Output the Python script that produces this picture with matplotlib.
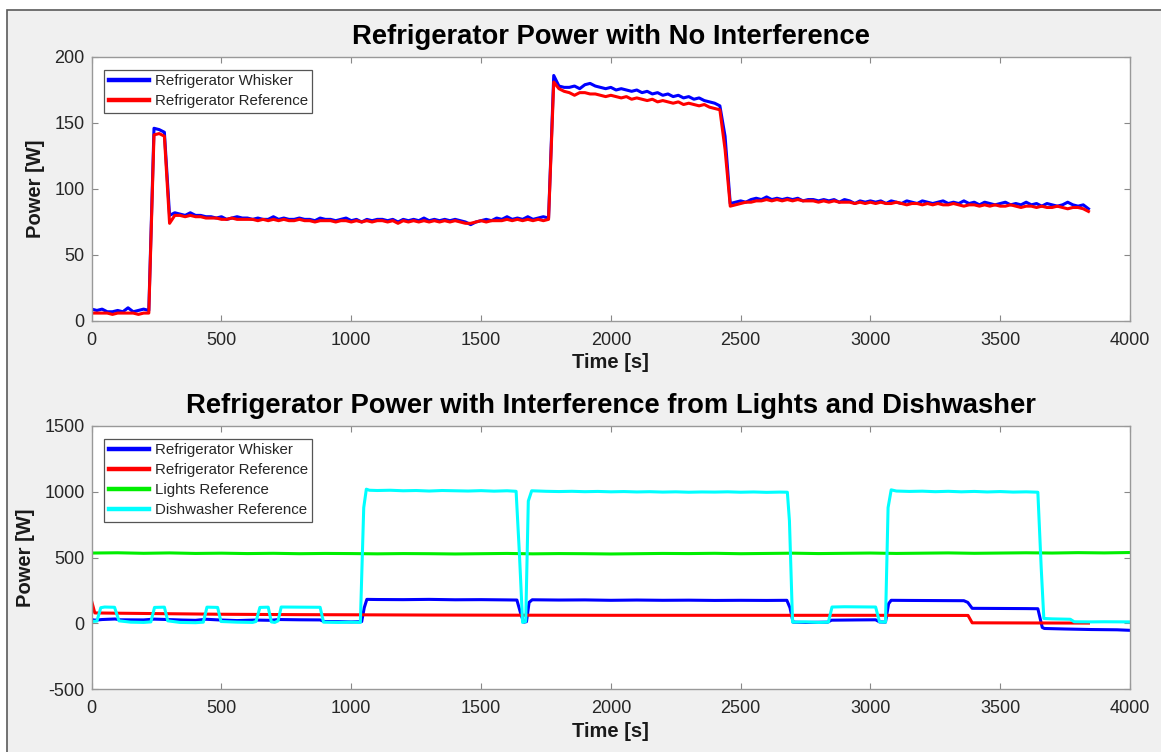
import numpy as np
import matplotlib
matplotlib.use("Agg")
import matplotlib.pyplot as plt
from matplotlib.patches import Rectangle

plt.rcParams['font.family'] = ['Liberation Sans', 'DejaVu Sans']
plt.rcParams['axes.unicode_minus'] = False

# ---------------- data: top plot (sampled every 20 s, 0..3840 s) ----------------
top_time = np.arange(0, 3841, 20)
top_whisker = ([9, 8, 9, 7, 7, 8, 7, 10, 7, 8, 9, 8]
               + [146, 145, 143, 80]
               + [82, 81, 80, 82, 80, 80, 79, 79, 78, 79, 77, 78, 79, 78, 78, 77, 78, 77, 77, 79,
                  77, 78, 77, 77, 78, 77, 77, 76, 78, 77, 77, 76, 77, 78, 76]
               + [77, 75, 77, 76, 77, 77, 76, 77, 75, 77, 76, 77, 76, 78, 76, 77, 76, 77, 76, 77,
                  76, 75, 73, 75, 76, 77, 76, 78, 77, 79, 77, 78, 77, 79, 77, 78, 79, 78]
               + [186, 178, 177, 177, 178, 176, 179, 180, 178, 177, 176, 177, 175, 176, 175, 174, 175,
                  173, 174, 172, 173, 171, 172, 170, 171, 169, 170, 168, 169, 167, 166, 165, 163, 140]
               + [89, 90, 91, 90, 92, 93, 92, 94, 92, 93, 92, 93, 92, 93, 91, 92, 92, 91, 92, 91,
                  92, 90, 92, 91, 89, 91, 90, 91]
               + [90, 91, 89, 91, 90, 89, 91, 90, 89, 91, 90, 89, 90, 91, 89, 90, 89, 91, 89, 90,
                  88, 90, 89, 88, 89, 90, 88, 89, 88, 90, 88, 89, 87, 89, 88, 87, 88, 90, 88, 87,
                  88, 85])
top_reference = ([6, 6, 6, 6, 5, 6, 6, 6, 6, 5, 6, 6]
                 + [141, 142, 140, 74]
                 + [80, 80, 79, 80, 79, 79, 78, 78, 78, 77, 77, 78, 77, 77, 77, 77, 76, 77, 76, 77,
                    76, 77, 76, 76, 77, 76, 76, 75, 76, 76, 76, 75, 76, 76, 75]
                 + [76, 75, 76, 75, 76, 76, 75, 76, 74, 76, 75, 76, 75, 76, 75, 76, 75, 76, 75, 76,
                    75, 74, 74, 75, 76, 75, 76, 76, 76, 77, 76, 77, 76, 77, 76, 77, 76, 77]
                 + [181, 176, 174, 173, 171, 173, 173, 172, 172, 171, 170, 171, 170, 169, 170, 168, 169,
                    168, 167, 168, 166, 167, 166, 165, 166, 164, 165, 164, 163, 164, 162, 161, 160, 130]
                 + [87, 88, 89, 90, 90, 91, 91, 92, 91, 92, 91, 92, 91, 92, 91, 91, 91, 90, 91, 90,
                    91, 90, 90, 90, 89, 90, 89, 90]
                 + [89, 90, 89, 89, 90, 89, 88, 89, 89, 88, 89, 88, 89, 88, 88, 89, 88, 87, 88, 88,
                    87, 88, 87, 88, 87, 87, 88, 87, 86, 87, 87, 86, 87, 86, 86, 87, 86, 85, 86, 86,
                    85, 83])

# ---------------- data: bottom plot (time [s], power [W]) ----------------
bot_whisker = [(0, 30), (12, 25), (40, 30), (90, 34), (110, 28), (200, 27), (240, 33), (290, 30),
               (350, 26), (400, 24), (440, 32), (490, 27), (560, 22), (630, 26), (690, 24), (720, 30),
               (800, 28), (880, 27), (895, 15), (950, 14), (1000, 12), (1040, 14), (1050, 120),
               (1060, 183), (1100, 182), (1200, 181), (1300, 183), (1400, 180), (1500, 181),
               (1600, 179), (1638, 178), (1655, 60), (1665, 10), (1675, 14), (1685, 160), (1697, 180),
               (1800, 178), (1900, 179), (2000, 176), (2100, 178), (2200, 176), (2300, 177),
               (2400, 175), (2500, 176), (2600, 175), (2678, 176), (2690, 120), (2702, 10),
               (2750, 8), (2835, 10), (2850, 25), (2950, 27), (3020, 28), (3035, 12), (3058, 10),
               (3070, 150), (3080, 176), (3150, 175), (3250, 174), (3360, 173), (3375, 160),
               (3392, 115), (3500, 114), (3600, 113), (3645, 112), (3662, -30), (3670, -38),
               (3750, -42), (3850, -46), (3950, -48), (4000, -52)]
bot_reference = [(0, 168), (12, 80), (100, 78), (300, 74), (500, 70), (800, 67), (1000, 66),
                 (1300, 64), (1600, 63), (2000, 62), (2500, 62), (3000, 62), (3376, 61),
                 (3392, 5), (3600, 4), (3840, 3)]
bot_lights = [(0, 535), (100, 537), (200, 533), (300, 536), (400, 532), (500, 534), (600, 531),
              (700, 533), (800, 530), (900, 532), (1000, 531), (1100, 529), (1200, 531), (1300, 530),
              (1400, 528), (1500, 530), (1600, 532), (1700, 529), (1800, 531), (1900, 530),
              (2000, 528), (2100, 530), (2200, 532), (2300, 531), (2400, 533), (2500, 530),
              (2600, 532), (2700, 534), (2800, 531), (2900, 533), (3000, 535), (3100, 532),
              (3200, 534), (3300, 536), (3400, 533), (3500, 535), (3600, 537), (3700, 535),
              (3800, 538), (3900, 536), (4000, 539)]
bot_dishwasher = [(0, 15), (20, 18), (35, 120), (50, 125), (88, 123), (105, 20), (150, 10), (200, 8),
                  (228, 12), (242, 122), (280, 124), (293, 20), (340, 8), (400, 6), (430, 10),
                  (444, 124), (485, 122), (498, 15), (560, 10), (620, 8), (633, 15), (648, 122),
                  (680, 124), (692, 12), (705, 8), (718, 20), (730, 125), (800, 124), (880, 123),
                  (893, 10), (950, 8), (1000, 10), (1035, 8), (1048, 880), (1058, 1020), (1070, 1012),
                  (1100, 1010), (1150, 1012), (1200, 1008), (1250, 1010), (1300, 1006), (1350, 1010),
                  (1400, 1008), (1450, 1006), (1500, 1009), (1550, 1005), (1600, 1008), (1635, 1004),
                  (1648, 520), (1660, 8), (1672, 15), (1682, 930), (1695, 1008), (1750, 1004),
                  (1800, 1002), (1850, 1004), (1900, 1001), (1950, 1003), (2000, 1000), (2050, 1002),
                  (2100, 999), (2150, 1001), (2200, 998), (2250, 1000), (2300, 997), (2350, 999),
                  (2400, 998), (2450, 1000), (2500, 997), (2550, 999), (2600, 996), (2650, 998),
                  (2680, 997), (2688, 780), (2700, 10), (2750, 12), (2800, 8), (2838, 10), (2852, 125),
                  (2900, 127), (2960, 126), (3020, 125), (3035, 12), (3058, 10), (3068, 880),
                  (3080, 1015), (3100, 1006), (3150, 1003), (3200, 1005), (3250, 1001), (3300, 1004),
                  (3350, 1000), (3400, 1003), (3450, 999), (3500, 1002), (3550, 998), (3600, 1000),
                  (3645, 997), (3658, 420), (3668, 38), (3700, 35), (3770, 32), (3785, 13),
                  (3850, 12), (3900, 13), (4000, 12)]

top_title = "Refrigerator Power with No Interference"
bot_title = "Refrigerator Power with Interference from Lights and Dishwasher"
x_ticks = [0, 500, 1000, 1500, 2000, 2500, 3000, 3500, 4000]
top_yticks = [0, 50, 100, 150, 200]
bot_yticks = [-500, 0, 500, 1000, 1500]

# ---------------- figure ----------------
W, H = 1161, 752
fig = plt.figure(figsize=(W / 100, H / 100), dpi=100, facecolor='white')
fig.add_artist(Rectangle((7.0 / W, -0.1), 1.2, 1.1 - 9.5 / H, transform=fig.transFigure,
                         facecolor='#f0f0f0', edgecolor='#5a5a5a', linewidth=1.2, zorder=-10))

ax1 = fig.add_axes([91.7 / W, 1 - 321 / H, (1130 - 91.7) / W, (321 - 57) / H])
ax2 = fig.add_axes([91.7 / W, 1 - 689.3 / H, (1130 - 91.7) / W, (689.3 - 426) / H])

lw = 2.2
ax1.plot(top_time, top_whisker, color='#0000ff', lw=lw, label='Refrigerator Whisker')
ax1.plot(top_time, top_reference, color='#ff0000', lw=lw, label='Refrigerator Reference')

for data, col, lab in [(bot_whisker, '#0000ff', 'Refrigerator Whisker'),
                       (bot_reference, '#ff0000', 'Refrigerator Reference'),
                       (bot_lights, '#00ee00', 'Lights Reference'),
                       (bot_dishwasher, '#00ffff', 'Dishwasher Reference')]:
    t, v = zip(*data)
    ax2.plot(t, v, color=col, lw=lw, label=lab)

for ax, title, yt, ylim in [(ax1, top_title, top_yticks, (0, 200)),
                            (ax2, bot_title, bot_yticks, (-500, 1500))]:
    ax.set_facecolor('white')
    ax.set_xlim(0, 4000)
    ax.set_ylim(*ylim)
    ax.set_xticks(x_ticks)
    ax.set_yticks(yt)
    ax.tick_params(direction='in', length=4.5, width=0.8, color='#888888', labelcolor='#262626',
                   labelsize=13, top=True, right=True)
    ax.tick_params(axis='x', pad=8)
    ax.tick_params(axis='y', pad=5)
    for s in ax.spines.values():
        s.set_color('#999999')
        s.set_linewidth(1.0)
    ax.set_title(title, fontsize=19.7, fontweight='bold', color='black', pad=9.5)
    ax.set_xlabel('Time [s]', fontsize=14.5, fontweight='bold', color='#1a1a1a', labelpad=3)
    ax.set_ylabel('Power [W]', fontsize=14.5, fontweight='bold', color='#1a1a1a', labelpad=7)
    leg = ax.legend(loc='upper left', fontsize=10.8, frameon=True, fancybox=False,
                    edgecolor='#555555', framealpha=1, handlelength=2.7, handletextpad=0.35,
                    labelspacing=0.4, borderaxespad=0.85, borderpad=0.3)
    leg.get_frame().set_linewidth(0.9)
    for line in leg.get_lines():
        line.set_linewidth(3.2)
    for txt in leg.get_texts():
        txt.set_color('#262626')

fig.savefig('out.png', dpi=100, facecolor=fig.get_facecolor())
